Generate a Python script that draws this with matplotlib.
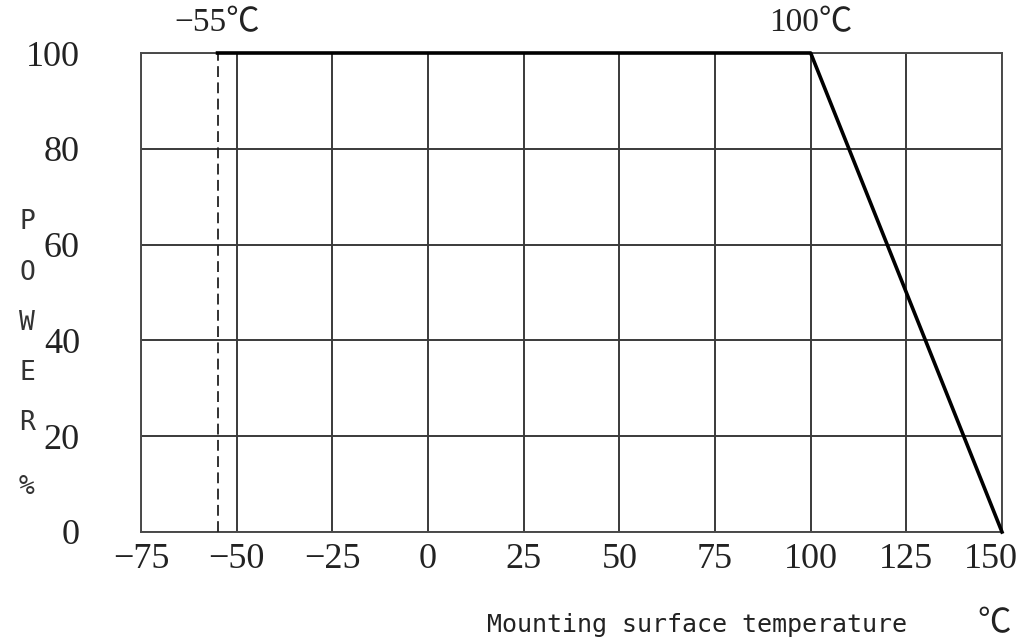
import matplotlib
matplotlib.use("Agg")
import matplotlib.pyplot as plt
from matplotlib.transforms import ScaledTranslation

# Data
temps = [-55, 100, 150]
power = [100, 100, 0]
min_temp = -55
x_ticks = [-75, -50, -25, 0, 25, 50, 75, 100, 125, 150]
y_ticks = [0, 20, 40, 60, 80, 100]
x_tick_labels = ["−75", "−50", "−25", "0", "25", "50", "75", "100", "125", "150"]
y_tick_labels = ["0", "20", "40", "60", "80", "100"]
ylabel_chars = ["P", "O", "W", "E", "R", "%"]
xlabel = "Mounting surface temperature"
xlabel_unit = "℃"
ann_left = "−55℃"
ann_right = "100℃"

serif = ["Liberation Serif", "Noto Sans CJK SC", "DejaVu Sans"]
mono = ["DejaVu Sans Mono", "Noto Sans CJK SC", "DejaVu Sans"]

fig = plt.figure(figsize=(10.26, 6.37), dpi=100)
ax = fig.add_axes([141/1026, 1 - 532/637, (1002-141)/1026, (532-53)/637])

ax.set_xlim(-75, 150)
ax.set_ylim(0, 100)
ax.set_xticks(x_ticks)
ax.set_yticks(y_ticks)
ax.set_xticklabels(x_tick_labels, fontfamily=serif, fontsize=26, color="#222222")
ax.set_yticklabels(y_tick_labels, fontfamily=serif, fontsize=26, color="#222222")
ax.tick_params(axis="both", length=0)
ax.tick_params(axis="x", pad=8)
ax.tick_params(axis="y", pad=44)

# nudge the last x tick label left so it stays inside the figure
last = ax.get_xticklabels()[-1]
last.set_transform(last.get_transform() + ScaledTranslation(-11/100, 0, fig.dpi_scale_trans))

ax.grid(True, color="#3a3a3a", linewidth=1.4)
ax.set_axisbelow(True)
for sp in ax.spines.values():
    sp.set_color("#4a4a4a")
    sp.set_linewidth(1.4)

ax.plot([min_temp, min_temp], [0, 100], color="#222222", linewidth=1.3,
        linestyle=(0, (6, 3)), zorder=3)
ax.plot(temps, power, color="black", linewidth=2.6, zorder=4, clip_on=False)

ax.text(min_temp, 103, ann_left, fontfamily=serif, fontsize=24, ha="center",
        va="bottom", color="#222222")
ax.text(temps[1], 103, ann_right, fontfamily=serif, fontsize=24, ha="center",
        va="bottom", color="#222222")

fig.text(487/1026, 1 - 632/637, xlabel, fontfamily=mono, fontsize=18,
         ha="left", va="baseline", color="#222222")
fig.text(994/1026, 1 - 632/637, xlabel_unit, fontfamily=serif, fontsize=24,
         ha="center", va="baseline", color="#222222")

ylab_y = [222, 273, 323, 373, 423, 487]
for ch, yy in zip(ylabel_chars, ylab_y):
    fig.text(27/1026, 1 - yy/637, ch, fontfamily=mono, fontsize=19,
             ha="center", va="center", color="#333333")

fig.savefig("out.png", dpi=100)
